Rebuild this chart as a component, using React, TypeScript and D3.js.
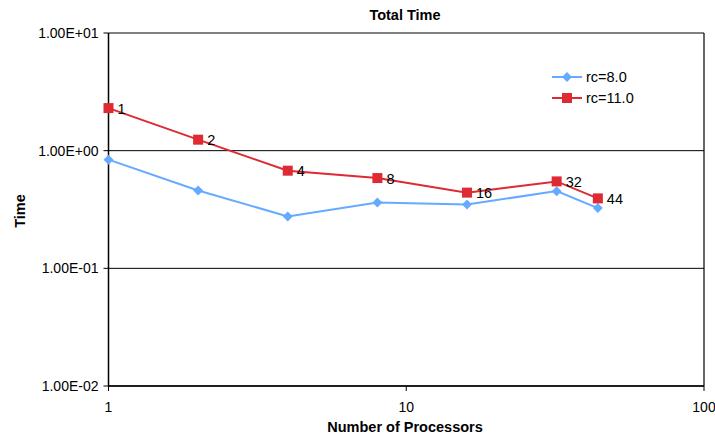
import React from "react";
import * as d3 from "d3";

// Number of processors used in each run
const processors = [1, 2, 4, 8, 16, 32, 44];
// Total time for cut-off radius 8.0
const timeRc8 = [0.839, 0.459, 0.276, 0.363, 0.349, 0.453, 0.325];
// Total time for cut-off radius 11.0
const timeRc11 = [2.3, 1.24, 0.676, 0.585, 0.44, 0.548, 0.393];
const seriesNames = ["rc=8.0", "rc=11.0"];
const yTicks = [0.01, 0.1, 1, 10];
const yTickLabels = ["1.00E-02", "1.00E-01", "1.00E+00", "1.00E+01"];
const xTicks = [1, 10, 100];
const xTickLabels = ["1", "10", "100"];

const W = 715;
const H = 439;
const left = 108.5;
const right = 704;
const top = 33;
const bottom = 386;

const BLUE = "#66aaff";
const RED = "#dd2a33";
const FONT = "Arial, 'Liberation Sans', Helvetica, sans-serif";

export default function App() {
  const x = d3.scaleLog().domain([1, 100]).range([left, right]);
  const y = d3.scaleLog().domain([0.01, 10]).range([bottom, top]);

  const line = d3
    .line<[number, number]>()
    .x((d) => x(d[0]))
    .y((d) => y(d[1]));

  const pts8: [number, number][] = processors.map((p, i) => [p, timeRc8[i]]);
  const pts11: [number, number][] = processors.map((p, i) => [p, timeRc11[i]]);

  const diamond = (cx: number, cy: number, r: number) =>
    `M${cx},${cy - r}L${cx + r},${cy}L${cx},${cy + r}L${cx - r},${cy}Z`;

  const legendX1 = 552;
  const legendX2 = 582;
  const legendY = [77, 98];

  return (
    <svg
      width={W}
      height={H}
      style={{ position: "absolute", left: 0, top: 0, background: "#fff" }}
      fontFamily={FONT}
    >
      <rect x={0} y={0} width={W} height={H} fill="#fff" />
      {/* title */}
      <text x={405} y={20} textAnchor="middle" fontSize={14.5} fontWeight="bold">
        Total Time
      </text>

      {/* gridlines */}
      {yTicks.map((t) => (
        <line key={t} x1={left} x2={right} y1={y(t)} y2={y(t)} stroke="#000" strokeWidth={1} />
      ))}
      {/* plot frame */}
      <line x1={right} x2={right} y1={top} y2={bottom} stroke="#000" strokeWidth={1.2} />
      <line x1={left} x2={left} y1={top} y2={bottom} stroke="#000" strokeWidth={1.5} />
      <line x1={left} x2={right} y1={bottom} y2={bottom} stroke="#000" strokeWidth={1.5} />

      {/* y axis ticks */}
      {yTicks.map((t, i) => (
        <g key={t}>
          <line x1={left - 5} x2={left} y1={y(t)} y2={y(t)} stroke="#000" />
          <text x={left - 10} y={y(t)} dy="0.35em" textAnchor="end" fontSize={14}>
            {yTickLabels[i]}
          </text>
        </g>
      ))}
      {/* x axis ticks */}
      {xTicks.map((t, i) => (
        <g key={t}>
          <line x1={x(t)} x2={x(t)} y1={bottom} y2={bottom + 5} stroke="#000" />
          <text x={x(t)} y={bottom + 26} textAnchor="middle" fontSize={14}>
            {xTickLabels[i]}
          </text>
        </g>
      ))}

      {/* axis titles */}
      <text x={405} y={432} textAnchor="middle" fontSize={14.5} fontWeight="bold">
        Number of Processors
      </text>
      <text
        transform={`translate(25,${211}) rotate(-90)`}
        textAnchor="middle"
        fontSize={14.5}
        fontWeight="bold"
      >
        Time
      </text>

      {/* rc=8.0 series */}
      <path d={line(pts8) ?? ""} fill="none" stroke={BLUE} strokeWidth={2} />
      {pts8.map((d, i) => (
        <path key={i} d={diamond(x(d[0]), y(d[1]), 5)} fill={BLUE} />
      ))}

      {/* rc=11.0 series */}
      <path d={line(pts11) ?? ""} fill="none" stroke={RED} strokeWidth={2} />
      {pts11.map((d, i) => (
        <rect key={i} x={x(d[0]) - 5} y={y(d[1]) - 5} width={10} height={10} fill={RED} />
      ))}
      {pts11.map((d, i) => (
        <text key={i} x={x(d[0]) + 9} y={y(d[1])} dy="0.38em" fontSize={14.5}>
          {processors[i]}
        </text>
      ))}

      {/* legend */}
      <line x1={legendX1} x2={legendX2} y1={legendY[0]} y2={legendY[0]} stroke={BLUE} strokeWidth={2} />
      <path d={diamond((legendX1 + legendX2) / 2, legendY[0], 5)} fill={BLUE} />
      <text x={586} y={legendY[0]} dy="0.36em" fontSize={14.5}>
        {seriesNames[0]}
      </text>
      <line x1={legendX1} x2={legendX2} y1={legendY[1]} y2={legendY[1]} stroke={RED} strokeWidth={2} />
      <rect x={(legendX1 + legendX2) / 2 - 5} y={legendY[1] - 5} width={10} height={10} fill={RED} />
      <text x={586} y={legendY[1]} dy="0.36em" fontSize={14.5}>
        {seriesNames[1]}
      </text>
    </svg>
  );
}
